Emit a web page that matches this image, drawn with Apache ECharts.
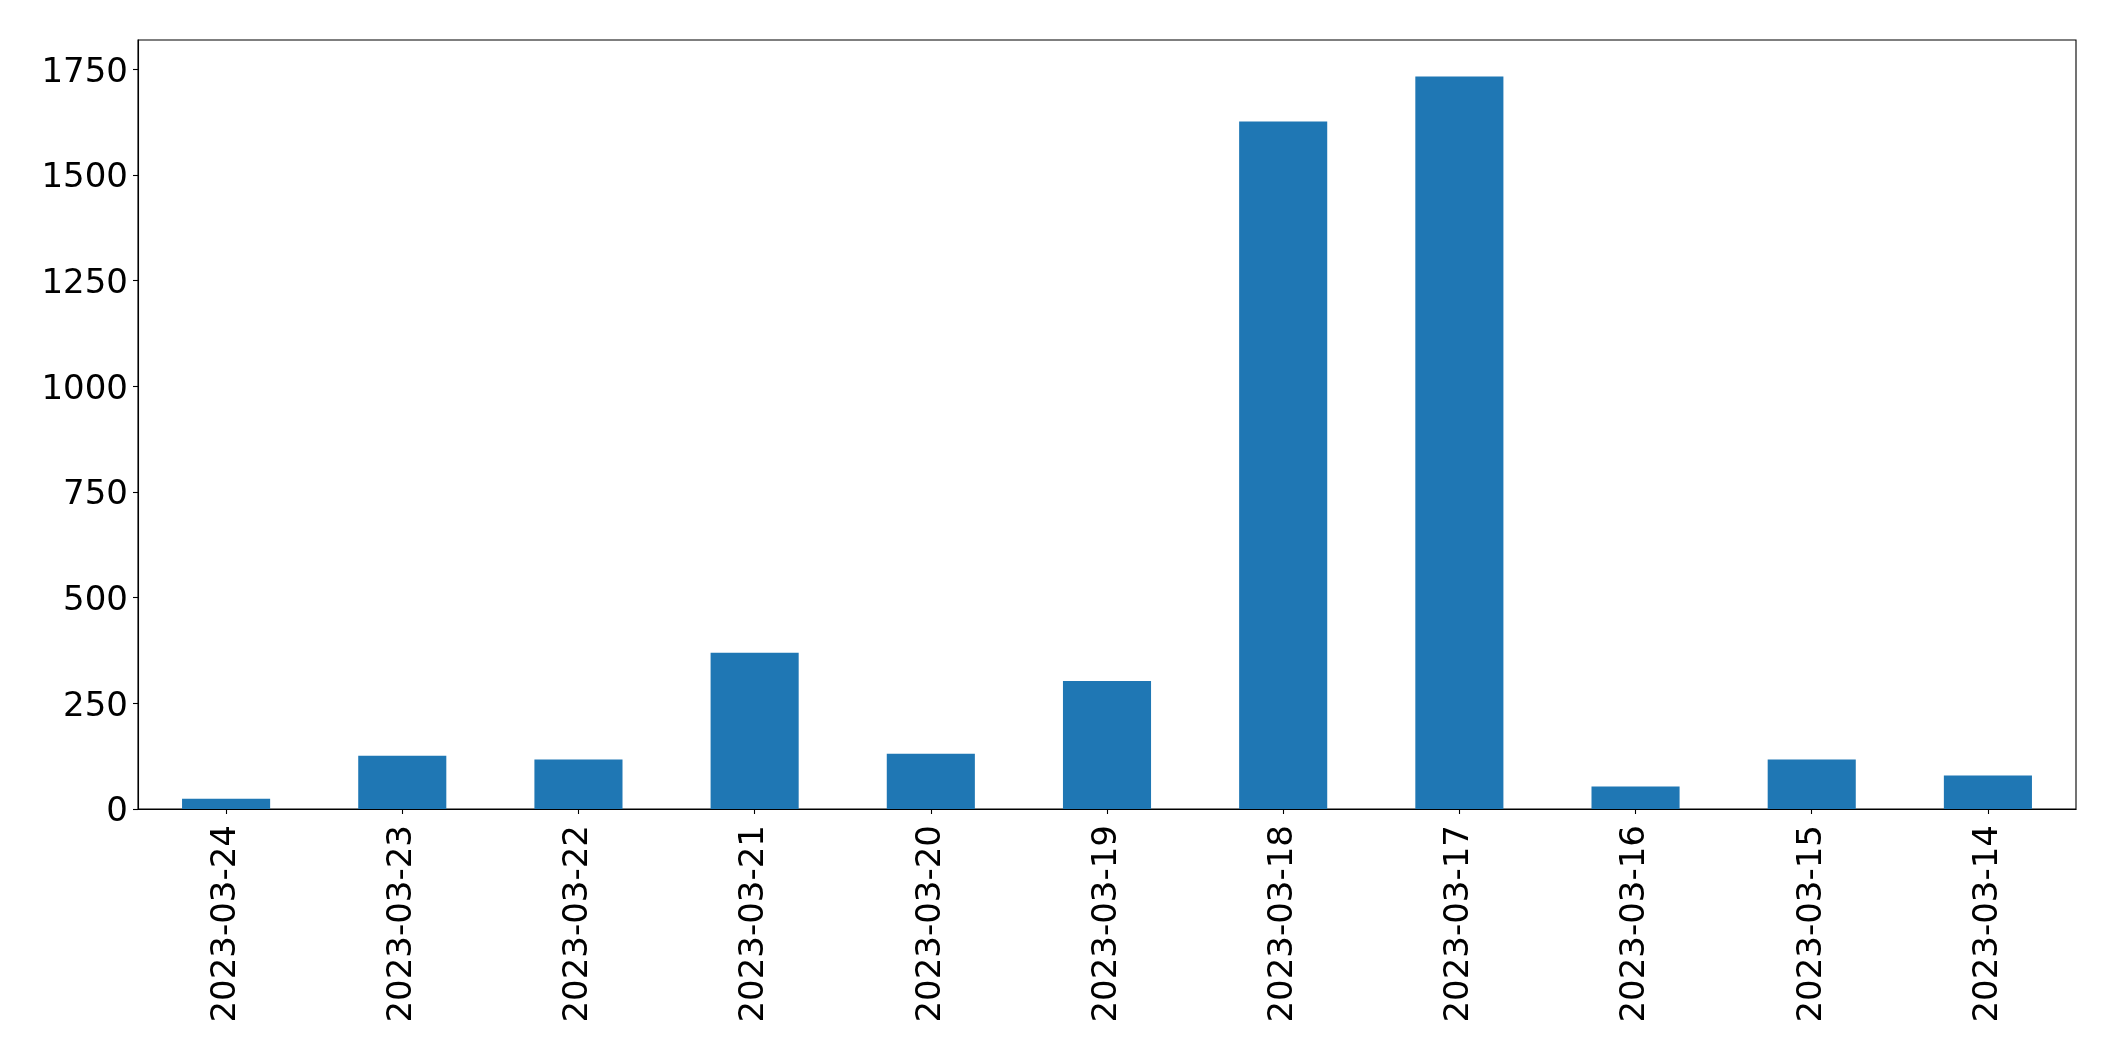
<!DOCTYPE html>
<html>
<head>
<meta charset="utf-8">
<script src="https://cdn.jsdelivr.net/npm/echarts@6/dist/echarts.min.js"></script>
<style>
html,body{margin:0;padding:0;background:#fff;}
#chart{width:2115px;height:1061px;}
</style>
</head>
<body>
<div id="chart"></div>
<script>
var categories = ['2023-03-24','2023-03-23','2023-03-22','2023-03-21','2023-03-20','2023-03-19','2023-03-18','2023-03-17','2023-03-16','2023-03-15','2023-03-14'];
var values = [24, 126, 117, 370, 131, 303, 1627, 1733, 53, 117, 79];
var yTicks = [0, 250, 500, 750, 1000, 1250, 1500, 1750];

var chart = echarts.init(document.getElementById('chart'), null, {renderer: 'canvas'});
var font = 'DejaVu Sans';
chart.setOption({
  animation: false,
  backgroundColor: '#ffffff',
  grid: {
    left: 138, right: 39, top: 40, bottom: 252,
    show: true, borderColor: '#000', borderWidth: 1.1, backgroundColor: 'transparent'
  },
  xAxis: {
    type: 'category',
    data: categories,
    boundaryGap: true,
    axisLine: {show: true, lineStyle: {color: '#000', width: 1.1}},
    axisTick: {show: true, alignWithLabel: true, length: 5, lineStyle: {color: '#000', width: 1.1}},
    axisLabel: {rotate: 90, color: '#000', fontSize: 34, fontFamily: font, margin: 16, interval: 0},
    splitLine: {show: false}
  },
  yAxis: {
    type: 'value',
    min: 0,
    max: 1819.6,
    axisLine: {show: true, lineStyle: {color: '#000', width: 1.1}},
    axisTick: {show: true, length: 5, customValues: yTicks, lineStyle: {color: '#000', width: 1.1}},
    axisLabel: {color: '#000', fontSize: 34, fontFamily: font, margin: 10, customValues: yTicks,
      formatter: function (v) { return '{n|' + String(v) + '}'; },
      rich: {n: {fontSize: 34, fontFamily: font, color: '#000', padding: [7, 0, 0, 0]}}},
    splitLine: {show: false}
  },
  series: [{
    type: 'bar',
    data: values,
    barWidth: '50%',
    itemStyle: {color: '#1f77b4'}
  }]
});
</script>
</body>
</html>
